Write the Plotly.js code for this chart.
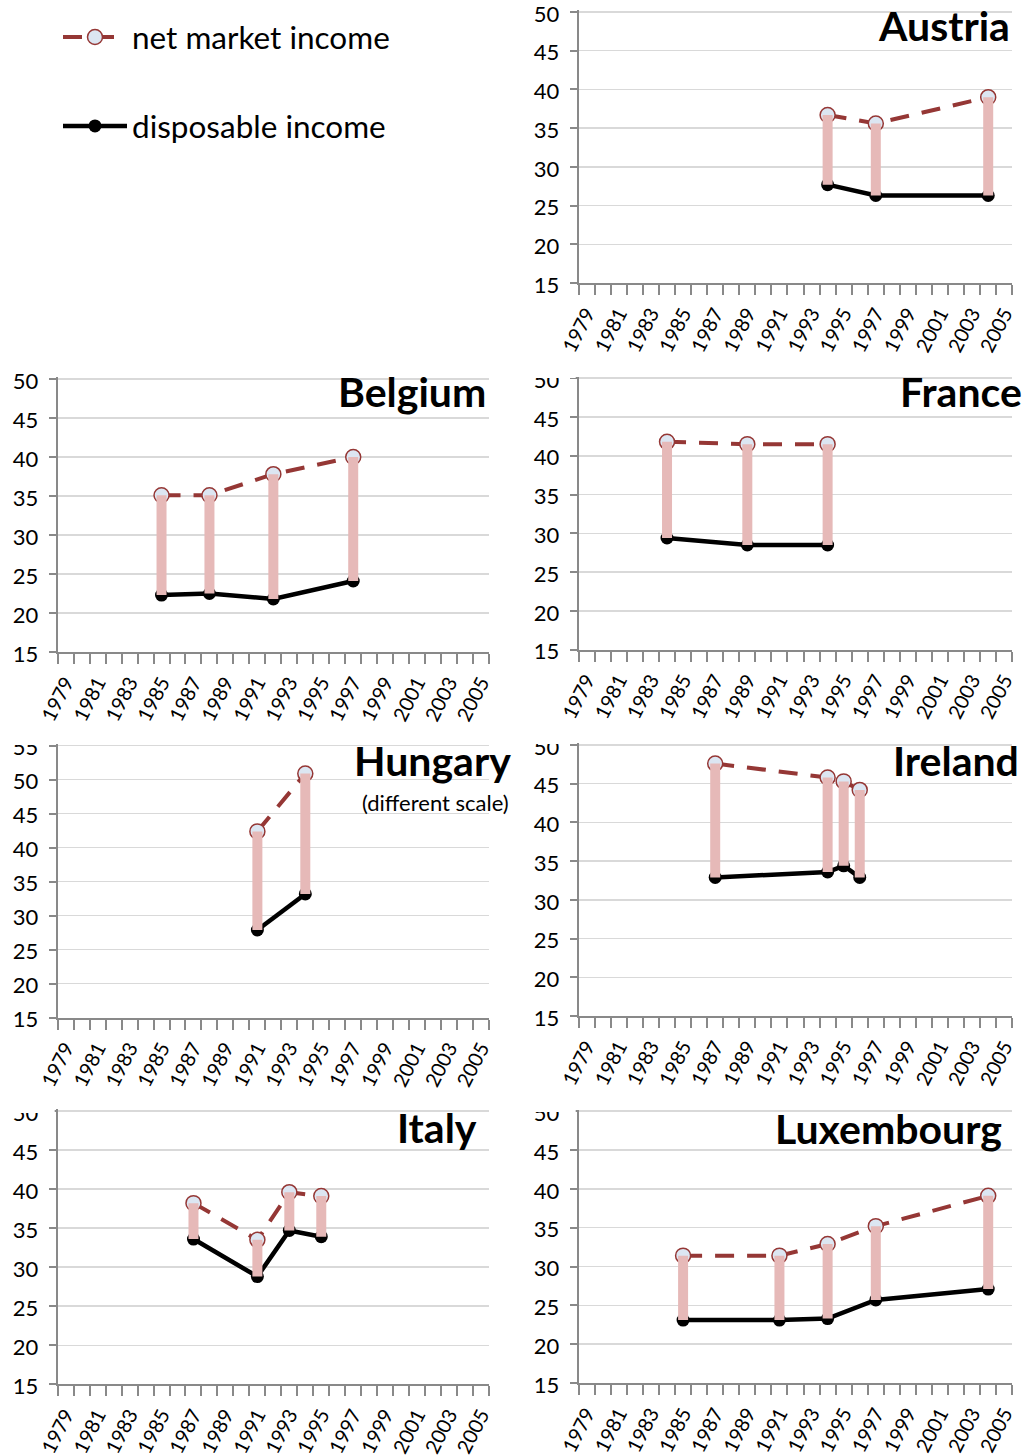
<!DOCTYPE html>
<html><head><meta charset="utf-8">
<script src="https://cdn.plot.ly/plotly-3.0.1.min.js"></script>
<style>html,body{margin:0;padding:0;background:#fff}#chart{width:1027px;height:1455px}</style>
</head><body><div id="chart"></div>
<script>
// ---- data (Gini coefficients) ----
const seriesNames = ['net market income', 'disposable income'];
const yearTickLabels = ['1979','1981','1983','1985','1987','1989','1991','1993','1995','1997','1999','2001','2003','2005'];

const austriaYears = [1994, 1997, 2004];
const austriaNet   = [36.7, 35.6, 39.0];
const austriaDisp  = [27.7, 26.3, 26.3];

const belgiumYears = [1985, 1988, 1992, 1997];
const belgiumNet   = [35.1, 35.1, 37.8, 40.0];
const belgiumDisp  = [22.3, 22.5, 21.8, 24.1];

const franceYears = [1984, 1989, 1994];
const franceNet   = [41.8, 41.5, 41.5];
const franceDisp  = [29.4, 28.5, 28.5];

const hungaryYears = [1991, 1994];
const hungaryNet   = [42.4, 50.9];
const hungaryDisp  = [27.9, 33.2];

const irelandYears = [1987, 1994, 1995, 1996];
const irelandNet   = [47.6, 45.8, 45.3, 44.2];
const irelandDisp  = [32.9, 33.6, 34.4, 32.9];

const italyYears = [1987, 1991, 1993, 1995];
const italyNet   = [38.2, 33.5, 39.6, 39.1];
const italyDisp  = [33.6, 28.8, 34.7, 33.9];

const luxYears = [1985, 1991, 1994, 1997, 2004];
const luxNet   = [31.4, 31.4, 32.9, 35.2, 39.1];
const luxDisp  = [23.1, 23.1, 23.3, 25.7, 27.1];

// ---- layout helpers ----
const W = 1027, H = 1455;
const fx = v => v / W;
const fy = v => 1 - v / H;
const FONT = 'Lato, "Open Sans", sans-serif';
const NET_COLOR = '#953735';
const STEM_COLOR = '#e6b9b8';
const AXIS_COLOR = '#898989';
const GRID_COLOR = '#d9d9d9';
const PAD = 0.2; // small range headroom so the top gridline is drawn

const panels = [
  {title:'Austria',    years:austriaYears, net:austriaNet, disp:austriaDisp, xp:[578.7,1012.3], yp:[12,283],     top:50, tx:1012, ty:25,   cut:null},
  {title:'Belgium',    years:belgiumYears, net:belgiumNet, disp:belgiumDisp, xp:[57.7,489],     yp:[379,652],    top:50, tx:488,  ty:392,  cut:null},
  {title:'France',     years:franceYears,  net:franceNet,  disp:franceDisp,  xp:[578.7,1012.3], yp:[378.2,649.7],top:50, tx:1024, ty:392,  cut:378},
  {title:'Hungary',    years:hungaryYears, net:hungaryNet, disp:hungaryDisp, xp:[57.7,489],     yp:[745.7,1017.7],top:55, tx:513, ty:760,  cut:745},
  {title:'Ireland',    years:irelandYears, net:irelandNet, disp:irelandDisp, xp:[578.7,1012.3], yp:[745,1016],   top:50, tx:1021, ty:760,  cut:744},
  {title:'Italy',      years:italyYears,   net:italyNet,   disp:italyDisp,   xp:[57.7,489],     yp:[1111,1384.3],top:50, tx:479,  ty:1127, cut:1113},
  {title:'Luxembourg', years:luxYears,     net:luxNet,     disp:luxDisp,     xp:[578.7,1012.3], yp:[1111.2,1383],top:50, tx:1004, ty:1128, cut:1112}
];

const data = [];
const layout = {
  width: W, height: H,
  margin: {l:0, r:0, t:0, b:0},
  paper_bgcolor: '#ffffff',
  plot_bgcolor: '#ffffff',
  font: {family: FONT, color: '#000000'},
  showlegend: true,
  legend: {
    x: fx(58), y: fy(10), xanchor: 'left', yanchor: 'top',
    font: {family: FONT, size: 31.5, color: '#000000'},
    tracegroupgap: 45, itemwidth: 64, bgcolor: 'rgba(0,0,0,0)'
  },
  annotations: [],
  shapes: []
};

panels.forEach((p, i) => {
  const n = i === 0 ? '' : String(i + 1);
  const xa = 'x' + n, ya = 'y' + n;
  // net market income
  data.push({
    x: p.years, y: p.net, xaxis: xa, yaxis: ya, type: 'scatter', mode: 'lines+markers',
    name: seriesNames[0], legendgroup: 'net', showlegend: i === 0,
    line: {color: NET_COLOR, width: 4, dash: '19px,13px'},
    marker: {symbol: 'circle', size: 15, color: '#dce6f2', line: {color: NET_COLOR, width: 1.5}},
    hoverinfo: 'x+y'
  });
  // disposable income
  data.push({
    x: p.years, y: p.disp, xaxis: xa, yaxis: ya, type: 'scatter', mode: 'lines+markers',
    name: seriesNames[1], legendgroup: 'disp', showlegend: i === 0,
    line: {color: '#000000', width: 4.5},
    marker: {symbol: 'circle', size: 13, color: '#000000'},
    hoverinfo: 'x+y'
  });
  // redistribution stems (high-low lines) from disposable to net
  const sx = [], sy = [];
  p.years.forEach((yr, k) => { sx.push(yr, yr, null); sy.push(p.disp[k], p.net[k], null); });
  data.push({
    x: sx, y: sy, xaxis: xa, yaxis: ya, type: 'scatter', mode: 'lines',
    showlegend: false, line: {color: STEM_COLOR, width: 10}, hoverinfo: 'skip'
  });

  const yt = [];
  for (let v = 15; v <= p.top; v += 5) yt.push(v);
  // pixel height per unit, used to keep the plot area aligned with the headroom
  const unitPx = (p.yp[1] - p.yp[0]) / (p.top - 15);

  layout['xaxis' + n] = {
    domain: [fx(p.xp[0]), fx(p.xp[1])], anchor: ya,
    range: [1978.5, 2005.5], fixedrange: true,
    tickmode: 'array', tickvals: yearTickLabels.map(Number), ticktext: yearTickLabels,
    tickangle: -63, ticks: 'outside', ticklen: 9, tickcolor: 'rgba(0,0,0,0)',
    ticklabeloverflow: 'allow',
    tickfont: {family: FONT, size: 20, color: '#000000'},
    showgrid: false, zeroline: false,
    showline: true, linecolor: AXIS_COLOR, linewidth: 2,
    minor: {tickmode: 'linear', tick0: 1978.5, dtick: 1, ticks: 'outside', ticklen: 10,
            tickcolor: AXIS_COLOR, tickwidth: 2, showgrid: false}
  };
  layout['yaxis' + n] = {
    domain: [fy(p.yp[1]), fy(p.yp[0] - PAD * unitPx)], anchor: xa,
    range: [15, p.top + PAD], fixedrange: true,
    tickmode: 'array', tickvals: yt,
    ticks: 'outside', ticklen: 7, tickcolor: AXIS_COLOR, tickwidth: 2,
    ticklabelstandoff: 6, ticklabelshift: 2, ticklabeloverflow: 'allow',
    tickfont: {family: FONT, size: 22, color: '#000000'},
    showgrid: true, gridcolor: GRID_COLOR, gridwidth: 1.5, zeroline: false,
    showline: true, linecolor: AXIS_COLOR, linewidth: 2
  };

  layout.annotations.push({
    xref: 'paper', yref: 'paper', x: fx(p.tx), y: fy(p.ty),
    xanchor: 'right', yanchor: 'middle', showarrow: false,
    text: p.title, font: {family: FONT, size: 41, weight: 700, color: '#000000'}
  });

  if (p.cut !== null) {
    layout.shapes.push({
      type: 'rect', xref: 'paper', yref: 'paper', layer: 'above',
      x0: fx(p.xp[0] - 62), x1: fx(p.xp[0] - 3), y0: fy(p.cut), y1: fy(p.cut - 18),
      fillcolor: '#ffffff', line: {width: 0}
    });
  }
});

layout.annotations.push({
  xref: 'paper', yref: 'paper', x: fx(511), y: fy(802),
  xanchor: 'right', yanchor: 'middle', showarrow: false,
  text: '(different scale)', font: {family: FONT, size: 22, color: '#000000'}
});

Plotly.newPlot('chart', data, layout, {displayModeBar: false, staticPlot: true});
</script>
</body></html>
